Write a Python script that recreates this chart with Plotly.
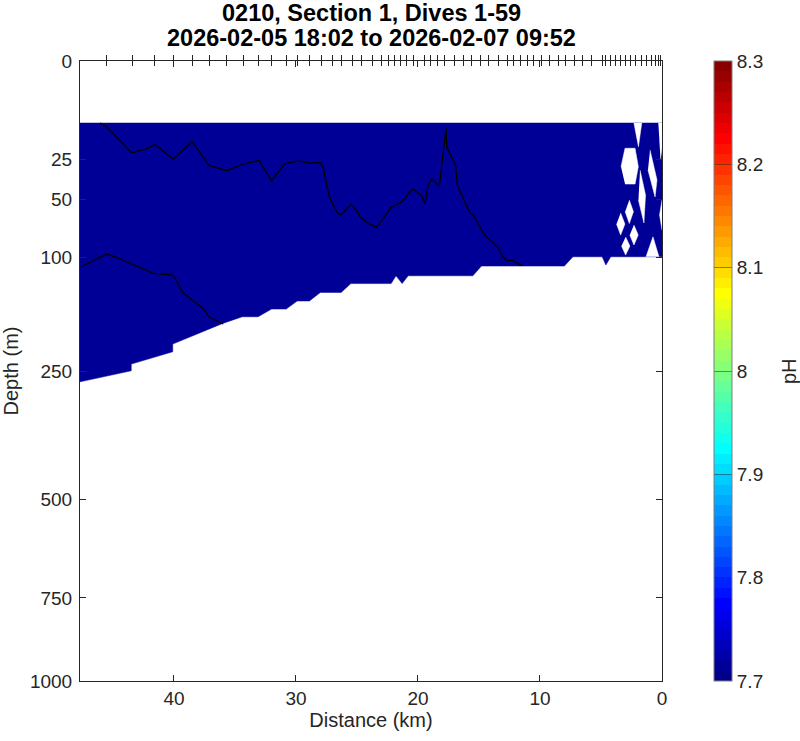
import math
import numpy as np
import plotly.graph_objects as go

# ---------------- data ----------------
title_line1 = "0210, Section 1, Dives 1-59"
title_line2 = "2026-02-05 18:02 to 2026-02-07 09:52"

dist_ticks = [0, 10, 20, 30, 40]
depth_ticks = [0, 25, 50, 100, 250, 500, 750, 1000]
ph_ticks = [7.7, 7.8, 7.9, 8.0, 8.1, 8.2, 8.3]
ph_min, ph_max = 7.7, 8.3
x_max_km = 47.7
depth_max = 1000
data_top_depth = 10

# dive positions (ticks along top axis), km
dive_km = [45.5, 43.4, 41.6, 40.0, 38.5, 37.1, 35.7, 34.3, 33.1, 32.0, 30.8, 29.9,
           28.9, 27.9, 27.0, 26.3, 25.4, 24.6, 23.7, 23.0, 22.4, 21.9, 21.4, 20.9,
           20.4, 19.5, 19.0, 18.4, 17.8, 17.0, 16.3, 15.6, 14.9, 14.2, 13.4, 12.7,
           12.2, 11.6, 11.0, 10.5, 9.9, 9.2, 8.5, 7.9, 7.2, 6.5, 5.8, 4.9, 4.6,
           4.2, 3.8, 3.4, 3.0, 2.6, 2.2, 1.7, 1.3, 0.9, 0.5, 0.3, 0.1]

# lower limit of the data (bottom of the gridded section)
bottom_km = [47.7, 43.5, 43.5, 40.1, 40.1, 36.0, 34.4, 33.1, 32.0, 30.8, 29.9, 28.9,
             28.0, 26.3, 25.5, 22.2, 21.8, 21.3, 20.8, 15.5, 14.8, 8.0, 7.3, 4.9,
             4.6, 4.2, 0.0]
bottom_depth = [267.8, 249.7, 239.0, 220.0, 208.5, 179.1, 170.2, 170.2, 160.1, 160.1,
                149.9, 149.9, 139.3, 139.3, 128.9, 128.9, 120.0, 128.9, 120.0, 120.0,
                109.4, 109.4, 99.7, 99.7, 108.3, 99.7, 99.7]

# missing-data holes (km, depth m)
hole_notch_km = [2.30, 1.93, 1.66];              hole_notch_d = [10, 19.1, 10]
hole_hex_km = [3.36, 3.03, 2.21, 1.94, 2.21, 3.03]; hole_hex_d = [29.1, 19.8, 19.8, 29.1, 39.4, 39.4]
hole_a_km = [1.80, 1.35, 1.48, 1.93];            hole_a_d = [30.9, 46.7, 68.3, 50.3]
hole_b_km = [0.98, 0.41, 0.57, 1.15];            hole_b_d = [20.6, 36.9, 48.1, 30.9]
hole_edge_km = [0.30, 0.0, 0.0, 0.12];           hole_edge_d = [10, 10, 19.7, 25.5]
hole_c_km = [0.0, 0.20, 0.0];                    hole_c_d = [50.3, 61.7, 74.3]
hole_d1_km = [2.68, 2.34, 2.68, 3.02];           hole_d1_d = [50.3, 59.1, 68.7, 59.1]
hole_d2_km = [3.39, 3.04, 3.39, 3.73];           hole_d2_d = [60.1, 69.2, 78.8, 69.2]
hole_d3_km = [2.30, 1.95, 2.30, 2.64];           hole_d3_d = [70.0, 78.8, 88.1, 78.8]
hole_d4_km = [2.98, 2.63, 2.98, 3.32];           hole_d4_d = [80.6, 89.1, 98.0, 89.1]
hole_tri_km = [1.31, 0.74, 0.25];                hole_tri_d = [99.7, 80.4, 99.7]

# contour lines
line1_km = [46.07, 45.60, 43.47, 42.79, 42.19, 41.56, 40.06, 38.50, 37.13, 35.68, 34.32,
            33.03, 31.99, 31.04, 30.76, 29.86, 28.85, 27.98, 27.76, 27.48, 27.21, 26.58,
            26.31, 25.49, 24.94, 24.75, 23.93, 23.44, 22.84, 22.16, 21.61, 21.07, 20.80,
            20.39, 19.70, 19.43, 19.16, 18.88, 18.25, 17.70, 17.65, 16.91, 16.78, 15.74,
            15.47, 14.51, 13.47, 13.06, 12.73, 12.19, 11.45]
line1_depth = [10.0, 11.0, 21.9, 20.9, 20.0, 18.1, 25.0, 17.0, 28.3, 31.3, 27.6,
               25.7, 37.5, 28.3, 27.2, 26.0, 27.1, 26.9, 29.6, 40.0, 49.4, 60.4,
               61.7, 53.5, 59.1, 63.6, 69.4, 72.0, 64.4, 55.3, 53.2, 49.8, 45.6,
               42.6, 47.4, 53.2, 40.0, 36.1, 40.7, 11.7, 19.1, 28.5, 40.0, 60.4,
               61.7, 79.4, 89.8, 99.7, 103.1, 103.8, 109.1]
line2_km = [47.62, 45.52, 44.84, 43.61, 41.70, 40.06, 39.29, 38.42, 37.60, 37.13, 35.96]
line2_depth = [110.1, 97.0, 99.7, 106.5, 117.3, 119.2, 139.3, 149.9, 159.2, 170.2, 180.0]

# ---------------- styling ----------------
FONT = "Liberation Sans, Arial, Helvetica, sans-serif"
AX = "#262626"
W, H = 800, 741
ML, MR, MT, MB = 80, 138, 61, 60
PW, PH = W - ML - MR, H - MT - MB


def jet(m):
    n = math.ceil(m / 4)
    u = np.concatenate([np.arange(1, n + 1) / n, np.ones(n - 1), np.arange(n, 0, -1) / n])
    g = math.ceil(n / 2) - (1 if m % 4 == 1 else 0) + np.arange(1, len(u) + 1)
    r = g + n
    b = g - n
    J = np.zeros((m, 3))
    J[r[r <= m] - 1, 0] = u[r <= m]
    J[g[g <= m] - 1, 1] = u[g <= m]
    J[b[b >= 1] - 1, 2] = u[b >= 1]
    return J


NLEV = 60
cmap = jet(NLEV)
colorscale = []
for i, c in enumerate(cmap):
    col = "rgb(%d,%d,%d)" % tuple(int(round(v * 255)) for v in c)
    colorscale.append([i / NLEV, col])
    colorscale.append([(i + 1) / NLEV, col])
FILL = "rgb(0,0,150)"


def sq(d):
    return [math.sqrt(v) for v in d]


def px_x(fx):   # figure pixel -> paper fraction
    return (fx - ML) / PW


def px_y(fy):
    return 1 - (fy - MT) / PH


fig = go.Figure()

# filled section (all values below colour range -> lowest colour)
poly_x = [x_max_km, 0.0] + bottom_km[::-1]
poly_d = [data_top_depth, data_top_depth] + bottom_depth[::-1]
fig.add_trace(go.Scatter(x=poly_x, y=sq(poly_d), mode="lines", fill="toself",
                         fillcolor=FILL, line=dict(color=FILL, width=0.5),
                         hoverinfo="skip", showlegend=False))

holes = [(hole_notch_km, hole_notch_d), (hole_hex_km, hole_hex_d), (hole_a_km, hole_a_d),
         (hole_b_km, hole_b_d), (hole_edge_km, hole_edge_d), (hole_c_km, hole_c_d),
         (hole_d1_km, hole_d1_d), (hole_d2_km, hole_d2_d), (hole_d3_km, hole_d3_d),
         (hole_d4_km, hole_d4_d), (hole_tri_km, hole_tri_d)]
for hk, hd in holes:
    fig.add_trace(go.Scatter(x=hk, y=sq(hd), mode="lines", fill="toself",
                             fillcolor="white", line=dict(color="white", width=0.5),
                             hoverinfo="skip", showlegend=False))

for lk, ld in [(line1_km, line1_depth), (line2_km, line2_depth)]:
    fig.add_trace(go.Scatter(x=lk, y=sq(ld), mode="lines",
                             line=dict(color="black", width=1.3),
                             hoverinfo="skip", showlegend=False))

# colour bar carrier
fig.add_trace(go.Scatter(
    x=[x_max_km], y=[0], mode="markers", hoverinfo="skip", showlegend=False,
    marker=dict(size=1, opacity=0, color=[ph_min], cmin=ph_min, cmax=ph_max,
                colorscale=colorscale, showscale=True,
                colorbar=dict(x=px_x(714), xanchor="left", xpad=0,
                              y=0.5, yanchor="middle", len=1, lenmode="fraction", ypad=0,
                              thickness=18, thicknessmode="pixels",
                              outlinecolor="#7f7f7f", outlinewidth=1,
                              tickvals=ph_ticks, ticktext=[("%g" % v) for v in ph_ticks],
                              ticks="inside", ticklen=18, tickcolor="rgba(38,38,38,0.5)",
                              tickwidth=1,
                              tickfont=dict(family=FONT, size=19, color=AX)))))

# dummy traces to activate the top dive-tick axes
for ax in ["x2", "x3"]:
    fig.add_trace(go.Scatter(x=[x_max_km], y=[0], xaxis=ax, mode="markers",
                             marker=dict(size=1, opacity=0), hoverinfo="skip",
                             showlegend=False))

fig.add_annotation(text="pH", xref="paper", yref="paper",
                   x=px_x(789), y=0.5, xanchor="center", yanchor="middle",
                   textangle=-90, showarrow=False,
                   font=dict(family=FONT, size=20, color=AX))
fig.add_annotation(text="<b>%s</b>" % title_line1, xref="paper", yref="paper",
                   x=0.5, y=px_y(12.5), xanchor="center", yanchor="middle",
                   showarrow=False, font=dict(family=FONT, size=23.5, color="black"))
fig.add_annotation(text="<b>%s</b>" % title_line2, xref="paper", yref="paper",
                   x=0.5, y=px_y(37.5), xanchor="center", yanchor="middle",
                   showarrow=False, font=dict(family=FONT, size=23.5, color="black"))

fig.update_layout(
    width=W, height=H, autosize=False,
    margin=dict(l=ML, r=MR, t=MT, b=MB, autoexpand=False),
    paper_bgcolor="white", plot_bgcolor="white",
    font=dict(family=FONT, size=19, color=AX),
    hovermode=False,
    xaxis=dict(range=[x_max_km, 0], tickvals=dist_ticks, ticks="inside", ticklen=6,
               tickcolor=AX, showline=True, linecolor=AX, linewidth=1, mirror="ticks",
               showgrid=False, zeroline=False, automargin=False,
               tickfont=dict(family=FONT, size=19, color=AX),
               title=dict(text="Distance (km)", standoff=4,
                          font=dict(family=FONT, size=20, color=AX))),
    xaxis2=dict(overlaying="x", side="top", anchor="y", range=[x_max_km, 0],
                tickvals=dive_km, ticks="outside", ticklen=5, tickcolor=AX,
                showticklabels=False, showline=False, showgrid=False, zeroline=False,
                automargin=False),
    xaxis3=dict(overlaying="x", side="top", anchor="y", range=[x_max_km, 0],
                tickvals=dive_km, ticks="inside", ticklen=5, tickcolor=AX,
                showticklabels=False, showline=False, showgrid=False, zeroline=False,
                automargin=False),
    yaxis=dict(range=[math.sqrt(depth_max), 0], tickvals=sq(depth_ticks),
               ticktext=[str(v) for v in depth_ticks], ticks="inside", ticklen=6,
               tickcolor=AX, showline=True, linecolor=AX, linewidth=1, mirror="ticks",
               showgrid=False, zeroline=False, automargin=False, ticklabelstandoff=3,
               tickfont=dict(family=FONT, size=19, color=AX),
               title=dict(text="Depth (m)", standoff=12,
                          font=dict(family=FONT, size=20, color=AX))),
)

fig.write_html("out.html", config={"displayModeBar": False},
               post_script="document.body.style.margin='0px';")
